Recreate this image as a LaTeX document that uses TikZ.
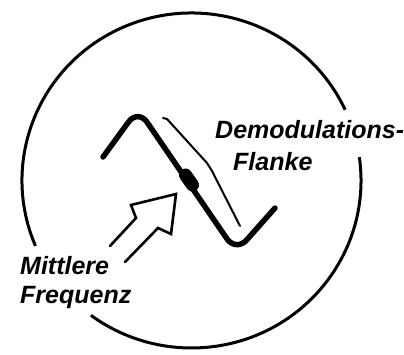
\documentclass[tikz,border=0pt]{standalone}
\usepackage{fontspec}
\setmainfont{Liberation Sans}
\begin{document}
\begin{tikzpicture}[x=1pt,y=-1pt,
  ring/.style={line width=3pt},
  wave/.style={line width=5.5pt, rounded corners=16pt, line cap=round, line join=round},
  thin/.style={line width=2pt, line cap=round, line join=round},
  hollow/.style={line width=2.6pt, line cap=round, line join=miter},
  lbl/.style={anchor=base west, inner sep=0pt, font=\fontsize{25}{30}\selectfont\bfseries\itshape}]
\useasboundingbox (0,0) rectangle (404,355);
\coordinate (c) at (191.5,180.5);
% outer circle with two gaps
\draw[ring] (c) ++(-203:169.5 and 167.5) arc[start angle=-203, end angle=-25, x radius=169.5, y radius=167.5];
\draw[ring] (c) ++(-368:169.5 and 167.5) arc[start angle=-368, end angle=-233.6, x radius=169.5, y radius=167.5];
% wave
\draw[wave] (103,157) -- (138,109) -- (236,252) -- (275,208);
% thin line
\draw[thin] (163,118) -- (167,119) -- (207,163) -- (212,171) -- (240,226);
% operating point
\draw[line width=13pt, line cap=round] (185.5,175) -- (192.5,185);
% hollow arrow
\draw[hollow] (110,246) -- (136,218) -- (131,205) -- (176,194) -- (171,234) -- (158,228) -- (125,262);
% labels
\node[lbl] (demod) at (215,139) {Demodulations-};
\node[lbl] (flanke) at (233,171) {Flanke};
\node[lbl] (mittl) at (20,275) {Mittlere};
\node[lbl] (freq) at (20,303) {Frequenz};
\end{tikzpicture}
\end{document}
